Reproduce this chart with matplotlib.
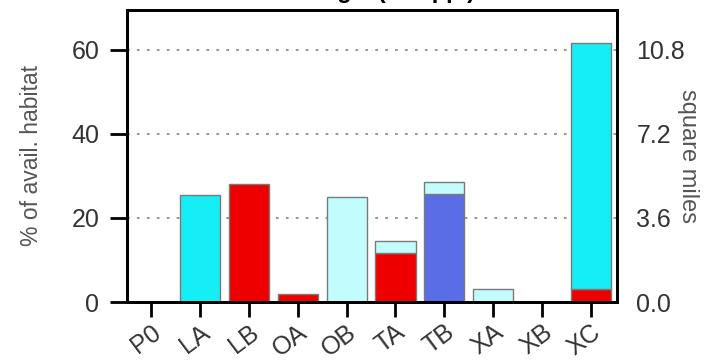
import matplotlib.pyplot as plt
import numpy as np

# habitat use by area code, % of available habitat
categories = ['P0', 'LA', 'LB', 'OA', 'OB', 'TA', 'TB', 'XA', 'XB', 'XC']
red_vals = [0, 0, 28.1, 1.8, 0, 11.6, 0, 0, 0, 3.1]
blue_vals = [0, 0, 0, 0, 0, 0, 25.7, 0, 0, 0]
cyan_vals = [0, 25.5, 0, 0, 0, 0, 0, 0, 0, 58.6]
light_vals = [0, 0, 0, 0, 25.1, 3.0, 2.8, 3.0, 0, 0]
pct_ticks = [0, 20, 40, 60]
mile_ticks = [0.0, 3.6, 7.2, 10.8]
miles_per_pct = 0.18

plt.rcParams['font.family'] = ['Liberation Sans', 'DejaVu Sans']

fig = plt.figure(figsize=(7.09, 3.6), dpi=100)
ax = fig.add_axes([127 / 709, 58 / 360, 490 / 709, 292 / 360])

x = np.arange(len(categories))
bottom = np.zeros(len(categories))
layers = [(red_vals, '#ee0000'), (blue_vals, '#5b6de6'),
          (cyan_vals, '#14eef4'), (light_vals, '#c2fcfc')]
for vals, col in layers:
    vals = np.array(vals, dtype=float)
    m = vals > 0
    ax.bar(x[m], vals[m], width=0.82, bottom=bottom[m], color=col,
           edgecolor='#7a7a7a', linewidth=1.0, zorder=2)
    bottom += vals

for y in pct_ticks[1:]:
    ax.axhline(y, color='#8c8c8c', linestyle=(0, (1.5, 4)), linewidth=1.3, zorder=1)

ax.set_xlim(-0.49, 9.53)
ax.set_ylim(0, 69.5)
ax.set_yticks(pct_ticks)
ax.set_xticks(x)
ax.set_xticklabels(categories, rotation=37, ha='right', va='top',
                   rotation_mode='anchor')
ax.tick_params(axis='x', length=11, width=2, labelsize=18, pad=2,
               labelcolor='#333333')
ax.tick_params(axis='y', length=12, width=2, labelsize=18, pad=8,
               labelcolor='#333333')
for s in ax.spines.values():
    s.set_linewidth(2)
ax.set_ylabel('% of avail. habitat', fontsize=16.5, color='#555555', labelpad=20)

ax2 = ax.twinx()
ax2.set_ylim(0, 69.5 * miles_per_pct)
ax2.set_yticks(mile_ticks)
ax2.set_yticklabels([f'{v:.1f}' for v in mile_ticks])
ax2.tick_params(axis='y', length=0, labelsize=18, pad=14, labelcolor='#333333')
ax2.set_ylabel('square miles', fontsize=17, color='#555555', rotation=270,
               labelpad=10)
for s in ax2.spines.values():
    s.set_linewidth(2)

# title sits mostly above the top edge, as in the cropped figure
fig.text(380 / 709, 1.006, 'Bluegill (all spp.)', ha='center', va='baseline',
         fontsize=17, fontweight='bold')

fig.savefig('out.png', dpi=100)
